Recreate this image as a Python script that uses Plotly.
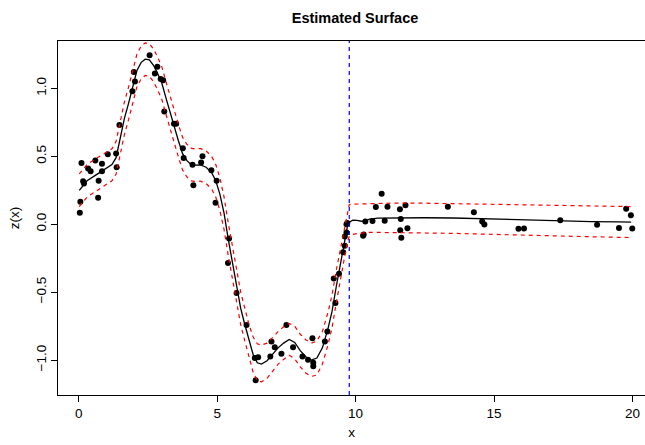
import plotly.graph_objects as go

# Observed points
obs_x = [0.04, 0.06, 0.10, 0.16, 0.19, 0.34, 0.43, 0.60, 0.70, 0.72, 0.84, 0.84,
         1.05, 1.35, 1.37, 1.47, 1.94, 2.03, 1.99, 2.56, 2.84, 2.75, 2.96, 3.05,
         3.09, 3.44, 3.52, 3.76, 3.79, 4.11, 4.14, 4.42, 4.47, 4.79, 4.98, 4.94,
         5.43, 5.39, 5.70, 6.06, 6.36, 6.48, 6.39, 6.92, 6.96, 7.08, 7.32, 7.50,
         7.74, 8.08, 8.28, 8.44, 8.47, 8.47, 8.89, 8.98, 9.27, 9.21, 9.40, 9.55,
         9.61, 9.61, 9.67, 9.67, 9.70, 10.27, 10.29, 10.35, 10.61, 10.73, 10.94,
         11.05, 11.15, 11.60, 11.80, 11.63, 11.61, 11.87, 11.65, 13.33, 14.27,
         14.57, 14.65, 15.88, 16.08, 17.39, 18.72, 19.51, 19.77, 19.94, 19.99]
obs_z = [0.085, 0.166, 0.45, 0.316, 0.30, 0.41, 0.39, 0.47, 0.195, 0.32, 0.445, 0.39,
         0.516, 0.52, 0.42, 0.73, 0.98, 1.05, 1.12, 1.245, 1.16, 1.11, 1.07, 1.06,
         0.83, 0.74, 0.74, 0.56, 0.487, 0.438, 0.287, 0.455, 0.50, 0.397, 0.32, 0.158,
         -0.105, -0.285, -0.506, -0.742, -0.985, -0.98, -1.148, -0.973, -0.864, -0.905,
         -0.954, -0.742, -0.905, -0.973, -0.998, -0.84, -1.02, -1.046, -0.864, -0.79,
         -0.58, -0.40, -0.365, -0.207, -0.158, -0.09, -0.06, 0.0, 0.01, -0.085, -0.075,
         0.02, 0.024, 0.127, 0.224, 0.026, 0.129, 0.11, 0.139, 0.038, -0.044, -0.03,
         -0.10, 0.128, 0.089, 0.02, -0.002, -0.034, -0.031, 0.03, -0.003, -0.028,
         0.114, 0.066, -0.031]

# Estimated surface with pointwise bands
fit_x = [0.02, 0.3, 0.6, 0.9, 1.2, 1.35, 1.5, 1.65, 1.8, 1.95, 2.1, 2.25, 2.4, 2.55,
         2.7, 2.85, 3.0, 3.15, 3.3, 3.45, 3.6, 3.75, 3.9, 4.05, 4.2, 4.4, 4.6, 4.8,
         4.95, 5.1, 5.25, 5.4, 5.55, 5.7, 5.85, 6.0, 6.15, 6.3, 6.45, 6.6, 6.8, 7.0,
         7.2, 7.4, 7.6, 7.8, 8.0, 8.2, 8.4, 8.6, 8.8, 9.0, 9.15, 9.3, 9.45, 9.6, 9.7,
         9.77, 9.9, 10.05, 10.2, 10.35, 10.5, 10.8, 11.5, 12.5, 13.5, 14.5, 15.5,
         16.5, 17.5, 18.5, 19.5, 19.95]
fit_z = [0.25, 0.32, 0.36, 0.40, 0.44, 0.49, 0.63, 0.78, 0.89, 1.02, 1.13, 1.19, 1.215,
         1.21, 1.17, 1.11, 1.04, 0.93, 0.82, 0.71, 0.615, 0.52, 0.47, 0.44, 0.435,
         0.437, 0.42, 0.38, 0.32, 0.22, 0.08, -0.11, -0.29, -0.47, -0.62, -0.74,
         -0.86, -0.96, -1.02, -1.03, -1.005, -0.96, -0.91, -0.875, -0.848, -0.87,
         -0.93, -0.975, -1.0, -0.985, -0.91, -0.77, -0.64, -0.46, -0.30, -0.13,
         -0.02, 0.015, 0.03, 0.028, 0.022, 0.025, 0.038, 0.045, 0.047, 0.048, 0.046,
         0.04, 0.033, 0.028, 0.024, 0.02, 0.017, 0.016]
upper_z = [0.37, 0.44, 0.48, 0.515, 0.555, 0.61, 0.75, 0.90, 1.01, 1.14, 1.25, 1.31,
           1.335, 1.33, 1.29, 1.23, 1.16, 1.05, 0.94, 0.83, 0.735, 0.64, 0.59, 0.56,
           0.555, 0.557, 0.54, 0.50, 0.44, 0.34, 0.20, 0.01, -0.17, -0.35, -0.50,
           -0.62, -0.74, -0.83, -0.88, -0.89, -0.875, -0.835, -0.79, -0.755, -0.73,
           -0.75, -0.81, -0.85, -0.875, -0.86, -0.79, -0.65, -0.52, -0.34, -0.18,
           -0.01, 0.07, 0.145, 0.148, 0.149, 0.15, 0.151, 0.153, 0.155, 0.156, 0.155,
           0.152, 0.148, 0.144, 0.141, 0.138, 0.135, 0.132, 0.13]
lower_z = [0.13, 0.20, 0.24, 0.28, 0.32, 0.37, 0.51, 0.66, 0.77, 0.90, 1.01, 1.07,
           1.095, 1.09, 1.05, 0.99, 0.92, 0.81, 0.70, 0.59, 0.495, 0.40, 0.35, 0.32,
           0.315, 0.317, 0.30, 0.26, 0.20, 0.10, -0.04, -0.23, -0.41, -0.59, -0.74,
           -0.86, -0.98, -1.09, -1.15, -1.16, -1.135, -1.085, -1.03, -0.995, -0.965,
           -0.99, -1.05, -1.095, -1.12, -1.11, -1.03, -0.89, -0.76, -0.58, -0.42,
           -0.25, -0.13, -0.09, -0.075, -0.068, -0.064, -0.062, -0.06, -0.06, -0.061,
           -0.063, -0.067, -0.072, -0.078, -0.083, -0.088, -0.092, -0.096, -0.098]

# Change point location
break_x = 9.77

x_ticks = [0, 5, 10, 15, 20]
x_tick_labels = ["0", "5", "10", "15", "20"]
y_ticks = [-1.0, -0.5, 0.0, 0.5, 1.0]
y_tick_labels = ["\u22121.0", "\u22120.5", "0.0", "0.5", "1.0"]

FONT = "Liberation Sans, Arial, Helvetica, sans-serif"

fig = go.Figure()
fig.add_trace(go.Scatter(x=obs_x, y=obs_z, mode="markers",
                         marker=dict(color="black", size=6), cliponaxis=True))
fig.add_trace(go.Scatter(x=fit_x, y=fit_z, mode="lines",
                         line=dict(color="black", width=1.3)))
fig.add_trace(go.Scatter(x=fit_x, y=upper_z, mode="lines",
                         line=dict(color="red", width=1.2, dash="4px,4px")))
fig.add_trace(go.Scatter(x=fit_x, y=lower_z, mode="lines",
                         line=dict(color="red", width=1.2, dash="4px,4px")))

fig.add_shape(type="line", x0=break_x, x1=break_x, y0=0, y1=1,
              xref="x", yref="paper",
              line=dict(color="blue", width=1.2, dash="4px,4px"))

fig.update_layout(
    width=645, height=445,
    margin=dict(l=58, r=0, t=41, b=50),
    paper_bgcolor="white", plot_bgcolor="white",
    showlegend=False,
    font=dict(family=FONT, size=13.5, color="black"),
    title=dict(text="<b>Estimated Surface</b>", font=dict(size=14.5, family=FONT),
               x=355 / 645, xref="container", xanchor="center",
               y=1 - 18 / 445, yref="container", yanchor="middle"),
    xaxis=dict(range=[-0.748, 20.45], tickvals=x_ticks, ticktext=x_tick_labels,
               showgrid=False, zeroline=False, showline=True, mirror=True,
               linecolor="black", linewidth=1, ticks="outside", ticklen=6,
               tickcolor="black", tickfont=dict(size=13.5),
               title=dict(text="x", font=dict(size=13.5), standoff=7)),
    yaxis=dict(range=[-1.257, 1.349], tickvals=y_ticks, ticktext=y_tick_labels,
               showgrid=False, zeroline=False, showline=True, mirror=False,
               linecolor="black", linewidth=1, ticks="outside", ticklen=6,
               tickcolor="black", tickfont=dict(size=13.5), tickangle=-90,
               title=dict(text="z(x)", font=dict(size=13.5), standoff=10)),
)

fig.write_html("out.html")
